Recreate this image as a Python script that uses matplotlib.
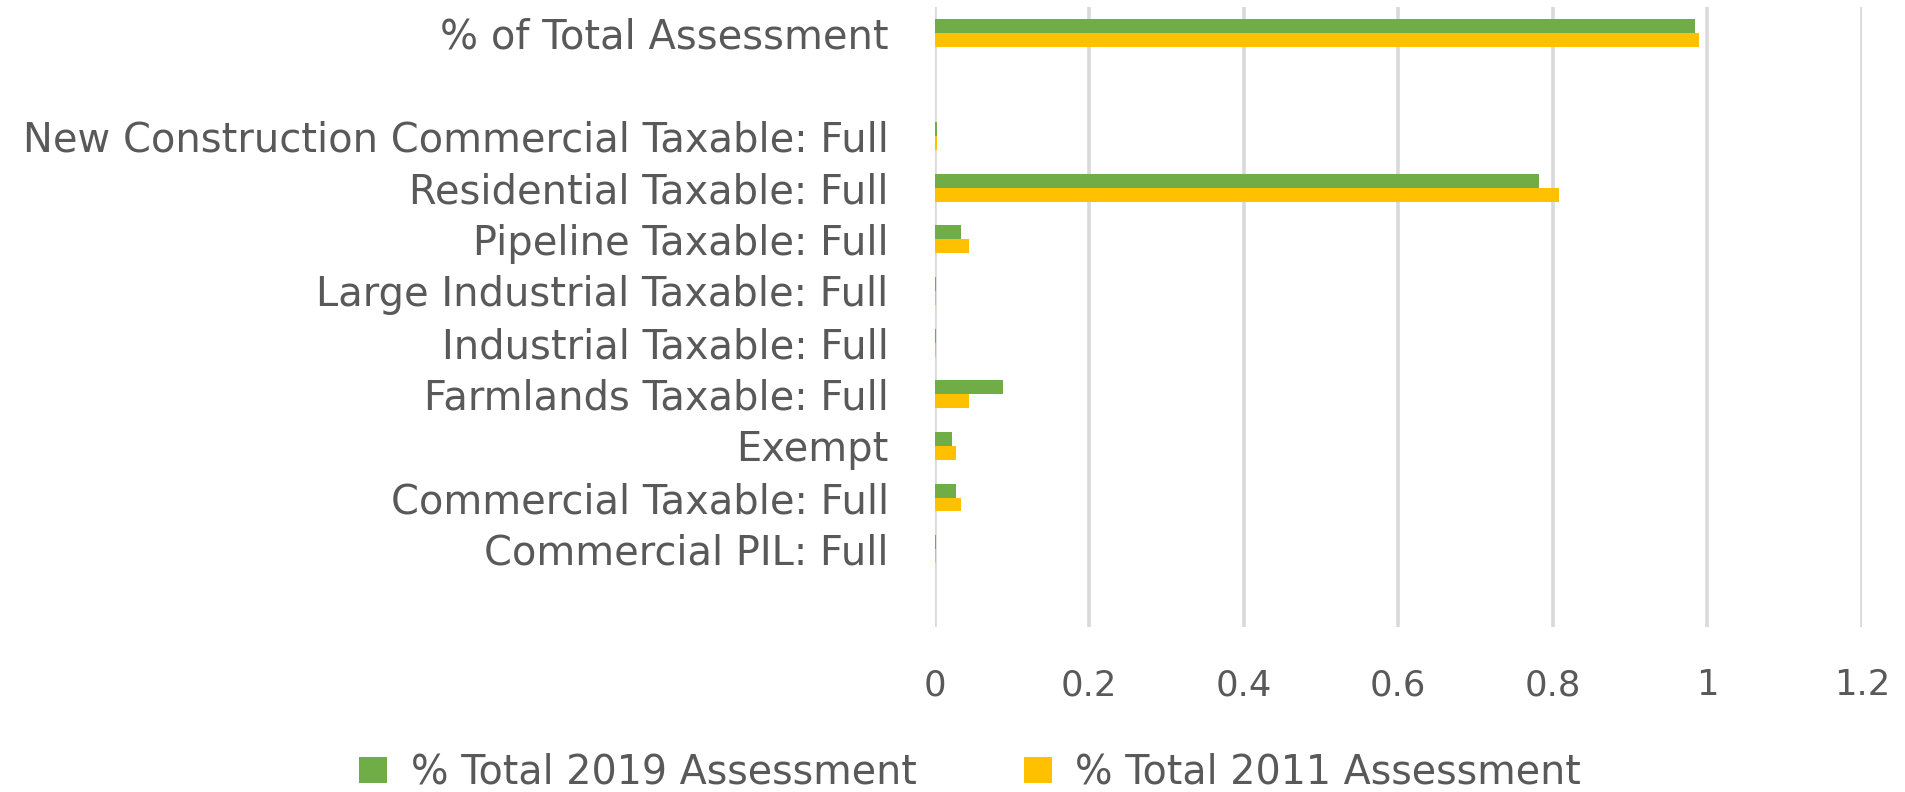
import matplotlib
matplotlib.use("Agg")
import matplotlib.pyplot as plt
import numpy as np

plt.rcParams['font.family'] = ['DejaVu Sans']

# Categories, bottom to top (blank entries are empty category slots)
categories = ["", "Commercial PIL: Full", "Commercial Taxable: Full", "Exempt",
              "Farmlands Taxable: Full", "Industrial Taxable: Full",
              "Large Industrial Taxable: Full", "Pipeline Taxable: Full",
              "Residential Taxable: Full", "New Construction Commercial Taxable: Full",
              " ", "% of Total Assessment"]
total_2019 = [0, 0.002, 0.028, 0.023, 0.088, 0.002, 0.002, 0.034, 0.782, 0.003, 0, 0.984]
total_2011 = [0, 0.002, 0.034, 0.028, 0.044, 0.002, 0.002, 0.044, 0.808, 0.003, 0, 0.989]
series_labels = ["% Total 2019 Assessment", "% Total 2011 Assessment"]
xticks = [0, 0.2, 0.4, 0.6, 0.8, 1.0, 1.2]
xticklabels = ["0", "0.2", "0.4", "0.6", "0.8", "1", "1.2"]

green = "#70AD47"
yellow = "#FFC000"
text_color = "#595959"
grid_color = "#D9D9D9"

fig = plt.figure(figsize=(19.06, 7.92), dpi=100)
ax = fig.add_axes([0.4903, 0.2087, 0.9768 - 0.4903, 0.9915 - 0.2087])

y = np.arange(len(categories))
h = 0.27
ax.barh(y + h / 2, total_2019, height=h, color=green, linewidth=0,
        label=series_labels[0], zorder=3)
ax.barh(y - h / 2, total_2011, height=h, color=yellow, linewidth=0,
        label=series_labels[1], zorder=3)

ax.set_ylim(-0.5, len(categories) - 0.5)
ax.set_xlim(0, 1.2)
ax.set_yticks(y)
ax.set_yticklabels(categories)
ax.set_xticks(xticks)
ax.set_xticklabels(xticklabels)

ax.xaxis.grid(True, color=grid_color, linewidth=2.6, zorder=0)
ax.set_axisbelow(True)
for s in ax.spines.values():
    s.set_visible(False)

ax.tick_params(axis='y', length=0, pad=33, labelsize=28.8, labelcolor=text_color)
ax.tick_params(axis='x', length=0, pad=30, labelsize=25.5, labelcolor=text_color)

fig.legend(loc='center', bbox_to_anchor=(0.509, 0.024), ncol=2, frameon=False,
           fontsize=28.5, labelcolor=text_color, handlelength=0.71, handleheight=0.61,
           handletextpad=0.6, columnspacing=2.7, borderpad=0, borderaxespad=0)

fig.savefig("out.png", dpi=100)
